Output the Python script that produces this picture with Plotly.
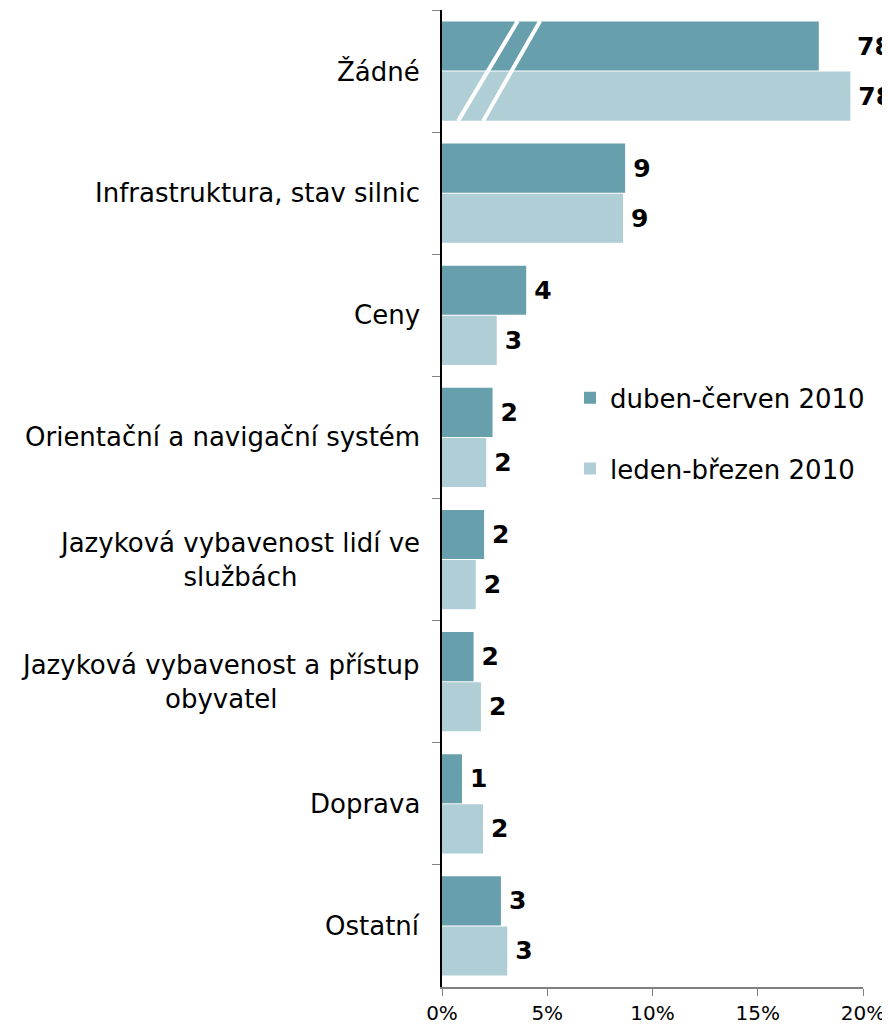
import plotly.graph_objects as go

# ====================================== Data ================================================ #

categories = ['Žádné', 'Infrastruktura, stav silnic', 'Ceny', 'Orientační a navigační systém',
              'Jazyková vybavenost lidí ve<br>službách', 'Jazyková vybavenost a přístup<br>obyvatel',
              'Doprava', 'Ostatní']

# bar lengths as drawn (the first category is cut off by the axis break)
q2_values = [17.9, 8.7, 4.0, 2.4, 2.0, 1.5, 0.95, 2.8]
q1_values = [19.4, 8.6, 2.6, 2.1, 1.6, 1.85, 1.95, 3.1]

# labels written next to the bars
q2_labels = ['78', '9', '4', '2', '2', '2', '1', '3']
q1_labels = ['78', '9', '3', '2', '2', '2', '2', '3']

x_ticks = [0, 5, 10, 15, 20]
x_tick_text = ['0%', '5%', '10%', '15%', '20%']

FONT = 'Verdana, DejaVu Sans, sans-serif'
DARK = '#689FAD'
LIGHT = '#B0CED6'
LABEL_FONT = dict(family=FONT, size=25, color='black', weight='bold')

# ====================================== Figure ================================================ #

fig = go.Figure()

# the broken bar keeps its label at the end of the longer bar, so it is drawn separately
q2_text = [''] + q2_labels[1:]

fig.add_trace(go.Bar(name='duben-červen 2010', y=categories, x=q2_values, orientation='h',
                     marker=dict(color=DARK, line=dict(width=0)),
                     text=q2_text, texttemplate='\u2009%{text}', textposition='outside',
                     cliponaxis=False, constraintext='none', legendgroup='a',
                     textfont=LABEL_FONT))

fig.add_trace(go.Bar(name='leden-březen 2010', y=categories, x=q1_values, orientation='h',
                     marker=dict(color=LIGHT, line=dict(width=0)),
                     text=q1_labels, texttemplate='\u2009%{text}', textposition='outside',
                     cliponaxis=False, constraintext='none', legendgroup='b',
                     textfont=LABEL_FONT))

fig.add_annotation(x=max(q1_values[0], q2_values[0]), y=-0.2, xref='x', yref='y',
                   text=q2_labels[0], showarrow=False, xanchor='left', xshift=5,
                   font=LABEL_FONT)

# axis break marks on the first (truncated) category
for xb, xt in [(0.76, 3.6), (1.95, 4.66)]:
    fig.add_shape(type='line', xref='x', yref='y', x0=xb, y0=0.41, x1=xt, y1=-0.41,
                  line=dict(color='white', width=4))

# category labels, centred like in the original
for cat in categories:
    fig.add_annotation(x=0, y=cat, xref='paper', yref='y', text=cat, showarrow=False,
                       xanchor='right', xshift=-20, align='center',
                       font=dict(family=FONT, size=26, color='black'))

# page body has an 8px margin, so the figure is made 8px smaller on each axis
fig.update_layout(width=882, height=1020, margin=dict(l=434, r=27, t=2, b=41),
                  plot_bgcolor='white', paper_bgcolor='white',
                  font=dict(family=FONT, color='black'),
                  barmode='group', bargap=0.18, bargroupgap=0.02,
                  legend=dict(x=0.304, y=0.627, xanchor='left', yanchor='top',
                              font=dict(size=26, family=FONT), traceorder='grouped',
                              tracegroupgap=34, itemwidth=30, bgcolor='rgba(0,0,0,0)'),
                  showlegend=True)

fig.update_yaxes(autorange='reversed', showline=True, linecolor='black', linewidth=1.5,
                 ticks='outside', tickson='boundaries', ticklen=8, tickcolor='#808080',
                 showticklabels=False, showgrid=False, automargin=False)

fig.update_xaxes(range=[0, 20], tickvals=x_ticks, ticktext=x_tick_text, showline=True,
                 linecolor='#808080', linewidth=1.5, ticks='outside', ticklen=7,
                 tickcolor='#808080', tickfont=dict(size=20, family=FONT), showgrid=False,
                 zeroline=False, automargin=False)

fig.write_html('out.html')
